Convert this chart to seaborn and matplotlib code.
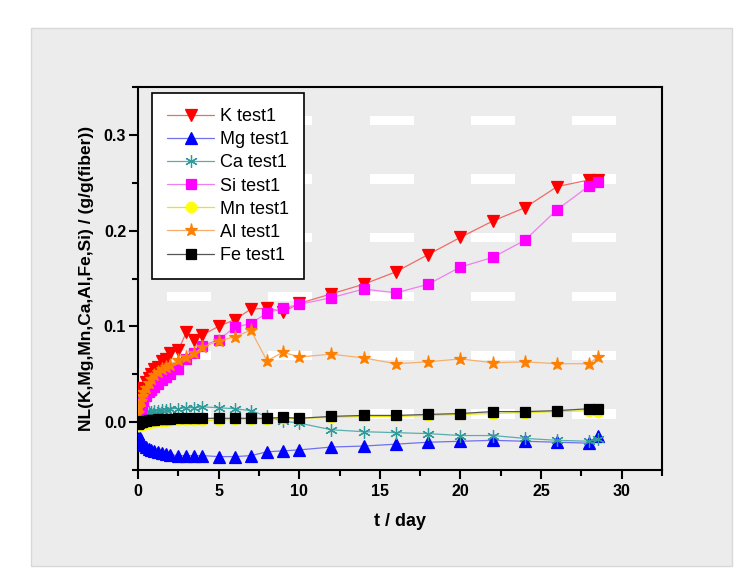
import numpy as np
import pandas as pd
import matplotlib
matplotlib.use("Agg")
import matplotlib.pyplot as plt
from matplotlib.patches import Rectangle
import seaborn as sns

# sampling times (days)
t_day = [0, 0.08, 0.17, 0.25, 0.33, 0.5, 0.67, 0.83, 1.0, 1.25, 1.5, 1.75, 2.0,
         2.5, 3.0, 3.5, 4.0, 5, 6, 7, 8, 9, 10, 12, 14, 16, 18, 20, 22, 24, 26, 28, 28.5]

k_test1 = [0.012, 0.020, 0.027, 0.032, 0.036, 0.042, 0.046, 0.050, 0.055, 0.058, 0.064,
           0.066, 0.072, 0.075, 0.094, 0.086, 0.091, 0.100, 0.107, 0.118, 0.119, 0.115,
           0.124, 0.134, 0.144, 0.157, 0.175, 0.193, 0.210, 0.224, 0.246, 0.253, 0.253]
mg_test1 = [-0.012, -0.016, -0.019, -0.022, -0.024, -0.026, -0.028, -0.029, -0.030, -0.031,
            -0.032, -0.033, -0.034, -0.035, -0.035, -0.035, -0.035, -0.036, -0.036, -0.035,
            -0.031, -0.030, -0.029, -0.026, -0.025, -0.023, -0.021, -0.020, -0.019, -0.020,
            -0.021, -0.022, -0.015]
ca_test1 = [0.001, 0.004, 0.006, 0.008, 0.009, 0.010, 0.011, 0.011, 0.012, 0.012, 0.013,
            0.013, 0.014, 0.014, 0.015, 0.015, 0.016, 0.015, 0.014, 0.012, 0.006, 0.001,
            -0.001, -0.008, -0.010, -0.011, -0.012, -0.014, -0.014, -0.017, -0.019, -0.020, -0.018]
si_test1 = [0.004, 0.008, 0.013, 0.018, 0.022, 0.027, 0.031, 0.034, 0.037, 0.040, 0.044,
            0.047, 0.050, 0.056, 0.066, 0.072, 0.080, 0.086, 0.099, 0.103, 0.114, 0.119,
            0.123, 0.130, 0.139, 0.135, 0.144, 0.162, 0.172, 0.190, 0.222, 0.247, 0.251]
mn_test1 = [-0.004, -0.004, -0.003, -0.003, -0.002, -0.002, -0.001, 0.000, 0.000, 0.001, 0.001,
            0.001, 0.002, 0.002, 0.002, 0.002, 0.002, 0.002, 0.003, 0.003, 0.003, 0.004,
            0.004, 0.005, 0.006, 0.006, 0.007, 0.008, 0.009, 0.010, 0.011, 0.012, 0.011]
al_test1 = [0.010, 0.016, 0.022, 0.027, 0.031, 0.036, 0.041, 0.045, 0.049, 0.052, 0.055,
            0.058, 0.060, 0.065, 0.068, 0.072, 0.078, 0.085, 0.089, 0.096, 0.064, 0.073,
            0.068, 0.071, 0.067, 0.061, 0.063, 0.066, 0.062, 0.063, 0.061, 0.061, 0.068]
fe_test1 = [-0.002, -0.001, 0.000, 0.000, 0.001, 0.001, 0.002, 0.002, 0.002, 0.003, 0.003,
            0.003, 0.003, 0.004, 0.004, 0.004, 0.004, 0.004, 0.004, 0.004, 0.004, 0.005,
            0.004, 0.006, 0.007, 0.007, 0.008, 0.009, 0.011, 0.011, 0.012, 0.014, 0.014]

series_labels = ["K test1", "Mg test1", "Ca test1", "Si test1", "Mn test1", "Al test1", "Fe test1"]
series_values = [k_test1, mg_test1, ca_test1, si_test1, mn_test1, al_test1, fe_test1]

# style per series: marker, marker colour, line colour, marker size
styles = {
    "K test1":  ("v", "#ff0000", "#f06a6a", 8),
    "Mg test1": ("^", "#0000ff", "#7070f0", 8),
    "Ca test1": ((6, 2, 0), "#2f9a9a", "#5aadad", 9),
    "Si test1": ("s", "#ff00ff", "#ee80ee", 7),
    "Mn test1": ("o", "#ffff00", "#e8e800", 7.5),
    "Al test1": ("*", "#ff8000", "#f5b070", 9.5),
    "Fe test1": ("s", "#000000", "#555555", 7),
}

sns.set_theme(style="ticks")
plt.rcParams['font.family'] = ['Liberation Sans', 'DejaVu Sans']
plt.rcParams['text.color'] = 'black'
plt.rcParams['axes.labelcolor'] = 'black'

fig = plt.figure(figsize=(7.47, 5.79), dpi=100, facecolor="white")
# grey slide panel behind the chart
fig.patches.append(Rectangle((31 / 747, 1 - 566 / 579), (732 - 31) / 747, (566 - 28) / 579,
                             transform=fig.transFigure, facecolor="#ececec",
                             edgecolor="#d8d8d8", lw=1, zorder=-5))
ax = fig.add_axes([138 / 747, 1 - 470 / 579, (662 - 138) / 747, (470 - 87) / 579])
ax.set_facecolor("#ececec")

# white dash texture seen in the background
for row in range(6):
    for col in range(5):
        ax.add_patch(Rectangle((0.055 + col * 0.1935, 0.146 + row * 0.1535 - 0.012), 0.084, 0.024,
                               transform=ax.transAxes, facecolor="white", edgecolor="none",
                               zorder=0.5))

for name, vals in zip(series_labels, series_values):
    mk, mcol, lcol, ms = styles[name]
    sns.lineplot(x=t_day, y=vals, ax=ax, color=lcol, lw=0.9, marker=mk, markersize=ms,
                 markerfacecolor=mcol, markeredgecolor=mcol, markeredgewidth=0.9,
                 label=name, sort=False, zorder=3)

ax.set_xlim(0, 32.5)
ax.set_ylim(-0.05, 0.35)
ax.set_xticks([0, 5, 10, 15, 20, 25, 30])
ax.set_xticks(np.arange(2.5, 32.6, 5), minor=True)
ax.set_yticks([0.0, 0.1, 0.2, 0.3])
ax.set_yticks([-0.05, 0.05, 0.15, 0.25, 0.35], minor=True)
ax.set_yticklabels(["0.0", "0.1", "0.2", "0.3"])

for side in ["left", "right", "top", "bottom"]:
    ax.spines[side].set_visible(True)
    ax.spines[side].set_linewidth(1.5)
    ax.spines[side].set_color("black")
ax.tick_params(which="major", direction="out", length=6.5, width=1.5, colors="black",
               labelsize=11.5, top=False, right=False)
ax.tick_params(axis="y", which="major", pad=2)
ax.tick_params(which="minor", direction="out", length=4.5, width=1.5, colors="black",
               top=False, right=False)
for lab in ax.get_xticklabels() + ax.get_yticklabels():
    lab.set_fontweight("bold")

ax.set_xlabel("t / day", fontsize=13, fontweight="bold", labelpad=10)
ax.set_ylabel("NL(K,Mg,Mn,Ca,Al,Fe,Si) / (g/g(fiber))", fontsize=12.5, fontweight="bold",
              labelpad=7)

leg = ax.legend(loc="upper left", bbox_to_anchor=(0.027, 0.985), frameon=True, fancybox=False,
                fontsize=13, handlelength=2.6, handletextpad=0.3, labelspacing=0.34,
                borderpad=0.85, borderaxespad=0.0, numpoints=1)
leg.get_frame().set_edgecolor("black")
leg.get_frame().set_linewidth(1.2)
leg.get_frame().set_facecolor("white")
leg.get_frame().set_alpha(1)

fig.savefig("out.png", dpi=100, facecolor="white")
